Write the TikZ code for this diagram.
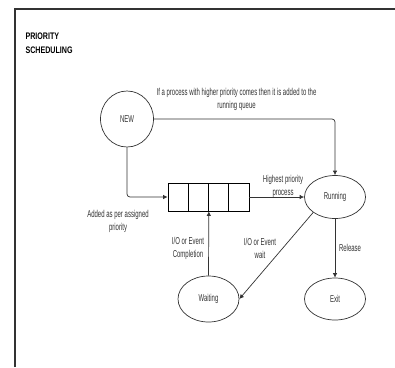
\documentclass[tikz,border=0pt]{standalone}
\usepackage{fontspec}
\setmainfont{Liberation Sans}
\newfontfamily\narrowfont[FakeStretch=0.6]{Liberation Sans}
\newfontfamily\titlefont[FakeStretch=0.75]{Liberation Sans}
\usetikzlibrary{shapes.geometric,arrows.meta}

\definecolor{linegray}{HTML}{333333}
\definecolor{textgray}{HTML}{333333}

\tikzset{
  state/.style={draw=linegray, ellipse, minimum width=61pt, minimum height=43pt,
    inner sep=0pt, line width=0.7pt, text=textgray, font=\narrowfont\fontsize{10}{11}\selectfont},
  cell/.style={draw=black, line width=0.7pt, minimum width=20.25pt, minimum height=28pt, inner sep=0pt},
  note/.style={align=center, text=textgray, font=\narrowfont\fontsize{10}{13}\selectfont},
  flow/.style={-{Latex[length=4.5pt,width=4.5pt]}, draw=linegray, line width=0.7pt}
}

\begin{document}
\begin{tikzpicture}[x=1pt,y=-1pt]
  \useasboundingbox (0,0) rectangle (395,367);
  \fill[white] (0,0) rectangle (395,367);

  % Rahmen
  \draw[linegray, line width=1.4pt] (15,367) -- (15,9) -- (395,9);

  % Titel
  \node[anchor=west, align=left, font=\titlefont\bfseries\fontsize{9.5}{14.5}\selectfont] (title) at (22,43) {PRIORITY\\SCHEDULING};

  % Zustaende
  \node[state, minimum width=53pt, minimum height=56pt] (new) at (127,119) {NEW};
  \node[state] (running) at (335,197) {Running};
  \node[state, minimum height=46pt] (waiting) at (208.5,299) {Waiting};
  \node[state, minimum height=42pt] (exit) at (335,299) {Exit};

  % Warteschlange
  \foreach \i in {0,...,3}
    \node[cell] (q\i) at (178.1+20.25*\i,197) {};

  % Pfeile
  \draw[flow, rounded corners=3pt] (new.east) -| (running.north);
  \draw[flow, rounded corners=3pt] (new.south) |- (q0.west);
  \draw[flow] (q3.east) -- (running.west);
  \draw[flow] (waiting.north) -- (q1.south east);
  \draw[flow] (running.south west) -- (waiting.east);
  \draw[flow] (running.south) -- (exit.north);

  % Beschriftungen
  \node[note] (higher) at (236.5,99.5) {If a process with higher priority comes then it is added to the\\running queue};
  \node[note] (highest) at (283,186.5) {Highest priority\\process};
  \node[note] (added) at (118,221) {Added as per assigned\\priority};
  \node[note] (completion) at (188,248.5) {I/O or Event\\Completion};
  \node[note] (wait) at (260,248.5) {I/O or Event\\wait};
  \node[note] (release) at (350,248) {Release};
\end{tikzpicture}
\end{document}
